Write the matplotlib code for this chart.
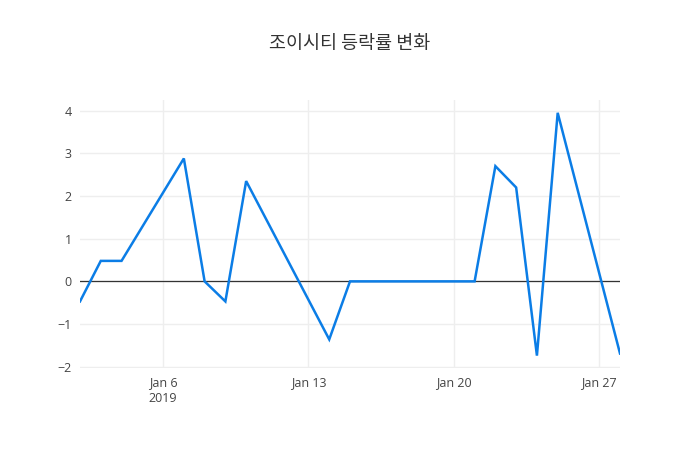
import matplotlib
matplotlib.use("Agg")
import matplotlib.pyplot as plt
import numpy as np

dates = ["2019-01-02", "2019-01-03", "2019-01-04", "2019-01-07", "2019-01-08",
         "2019-01-09", "2019-01-10", "2019-01-14", "2019-01-15", "2019-01-16",
         "2019-01-17", "2019-01-18", "2019-01-21", "2019-01-22", "2019-01-23",
         "2019-01-24", "2019-01-25", "2019-01-28"]
change = [-0.47, 0.48, 0.48, 2.88, 0.0,
          -0.47, 2.35, -1.36, 0.0, 0.0,
          0.0, 0.0, 0.0, 2.70, 2.20,
          -1.74, 3.95, -1.69]
title = "조이시티 등락률 변화"

x = np.array(dates, dtype="datetime64[D]")

plt.rcParams['font.family'] = ['Open Sans', 'DejaVu Sans']
fig = plt.figure(figsize=(7, 4.5), dpi=100)
ax = fig.add_axes([80 / 700, 1 - 368 / 450, 540 / 700, 268 / 450])

ax.plot(x, change, color="#0b7de6", linewidth=1.8, solid_joinstyle="miter", zorder=3)
ax.axhline(0, color="#333333", linewidth=0.9, zorder=2)

ax.set_xlim(x[0], x[-1])
ax.set_ylim(-2.03, 4.25)

ticks = np.array(["2019-01-06", "2019-01-13", "2019-01-20", "2019-01-27"], dtype="datetime64[D]")
ax.set_xticks(ticks)
ax.set_xticklabels(["Jan 6\n2019", "Jan 13", "Jan 20", "Jan 27"])
ax.set_yticks([-2, -1, 0, 1, 2, 3, 4])
ax.set_yticklabels(["\u22122", "\u22121", "0", "1", "2", "3", "4"])

ax.grid(True, color="#eeeeee", linewidth=1, zorder=0)
ax.set_axisbelow(True)
for s in ax.spines.values():
    s.set_visible(False)
ax.tick_params(length=0, labelsize=9, colors="#444444", pad=6)
for lbl in ax.get_xticklabels():
    lbl.set_verticalalignment("top")
    lbl.set_linespacing(1.3)

fig.text(0.5, 1 - 44 / 450, title, ha="center", va="center", fontsize=13.3,
         color="#333333", family=["Noto Sans CJK KR", "DejaVu Sans"])

fig.savefig("out.png", dpi=100, facecolor="white")
